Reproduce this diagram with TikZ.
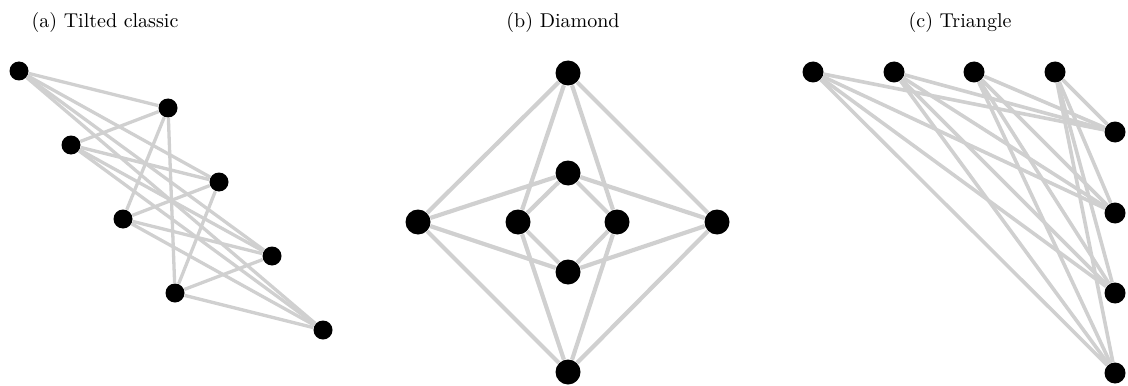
\documentclass[tikz,border=0pt]{standalone}
\usepackage{xcolor}
\usepackage{tikz}
\usetikzlibrary{positioning}
\definecolor{edgegray}{HTML}{D0D0D0}

\begin{document}
\begin{tikzpicture}[
  x=0.5pt,y=-0.5pt,
  vtx/.style={circle,fill=black,inner sep=0pt,minimum size=#1},
  vtx/.default=9.5pt,
  edge/.style={draw=edgegray,line width=#1},
  edge/.default=1.65pt,
  subcap/.style={anchor=base,font=\normalsize}
]
\useasboundingbox (0,0) rectangle (1128,385);

% (a) tilted classic
\node[subcap] (capa) at (105,28) {(a) Tilted classic};
\node[vtx] (a1) at (19,71) {};
\node[vtx] (a2) at (71,145) {};
\node[vtx] (a3) at (123,219) {};
\node[vtx] (a4) at (175,293) {};
\node[vtx] (b1) at (168,108) {};
\node[vtx] (b2) at (219,182) {};
\node[vtx] (b3) at (272,256) {};
\node[vtx] (b4) at (323,330) {};
\foreach \i in {1,...,4}
  \foreach \j in {1,...,4}
    \draw[edge] (a\i) -- (b\j);

% (b) diamond
\node[subcap] (capb) at (563,28) {(b) Diamond};
\node[vtx=12.5pt] (dtop) at (568,73) {};
\node[vtx=12.5pt] (dbot) at (568,372) {};
\node[vtx=12.5pt] (dint) at (568,173) {};
\node[vtx=12.5pt] (dinb) at (568,272) {};
\node[vtx=12.5pt] (dleft) at (418,222) {};
\node[vtx=12.5pt] (dright) at (717,222) {};
\node[vtx=12.5pt] (dinl) at (518,222) {};
\node[vtx=12.5pt] (dinr) at (617,222) {};
\foreach \u in {dtop,dbot,dint,dinb}
  \foreach \v in {dleft,dright,dinl,dinr}
    \draw[edge=2.1pt] (\u) -- (\v);

% (c) triangle
\node[subcap] (capc) at (960,28) {(c) Triangle};
\node[vtx=10.5pt] (t1) at (813,72) {};
\node[vtx=10.5pt] (t2) at (894,72) {};
\node[vtx=10.5pt] (t3) at (974,72) {};
\node[vtx=10.5pt] (t4) at (1055,72) {};
\node[vtx=10.5pt] (r1) at (1115,132) {};
\node[vtx=10.5pt] (r2) at (1115,213) {};
\node[vtx=10.5pt] (r3) at (1115,293) {};
\node[vtx=10.5pt] (r4) at (1115,373) {};
\foreach \i in {1,...,4}
  \foreach \j in {1,...,4}
    \draw[edge=1.8pt] (t\i) -- (r\j);
\end{tikzpicture}
\end{document}
